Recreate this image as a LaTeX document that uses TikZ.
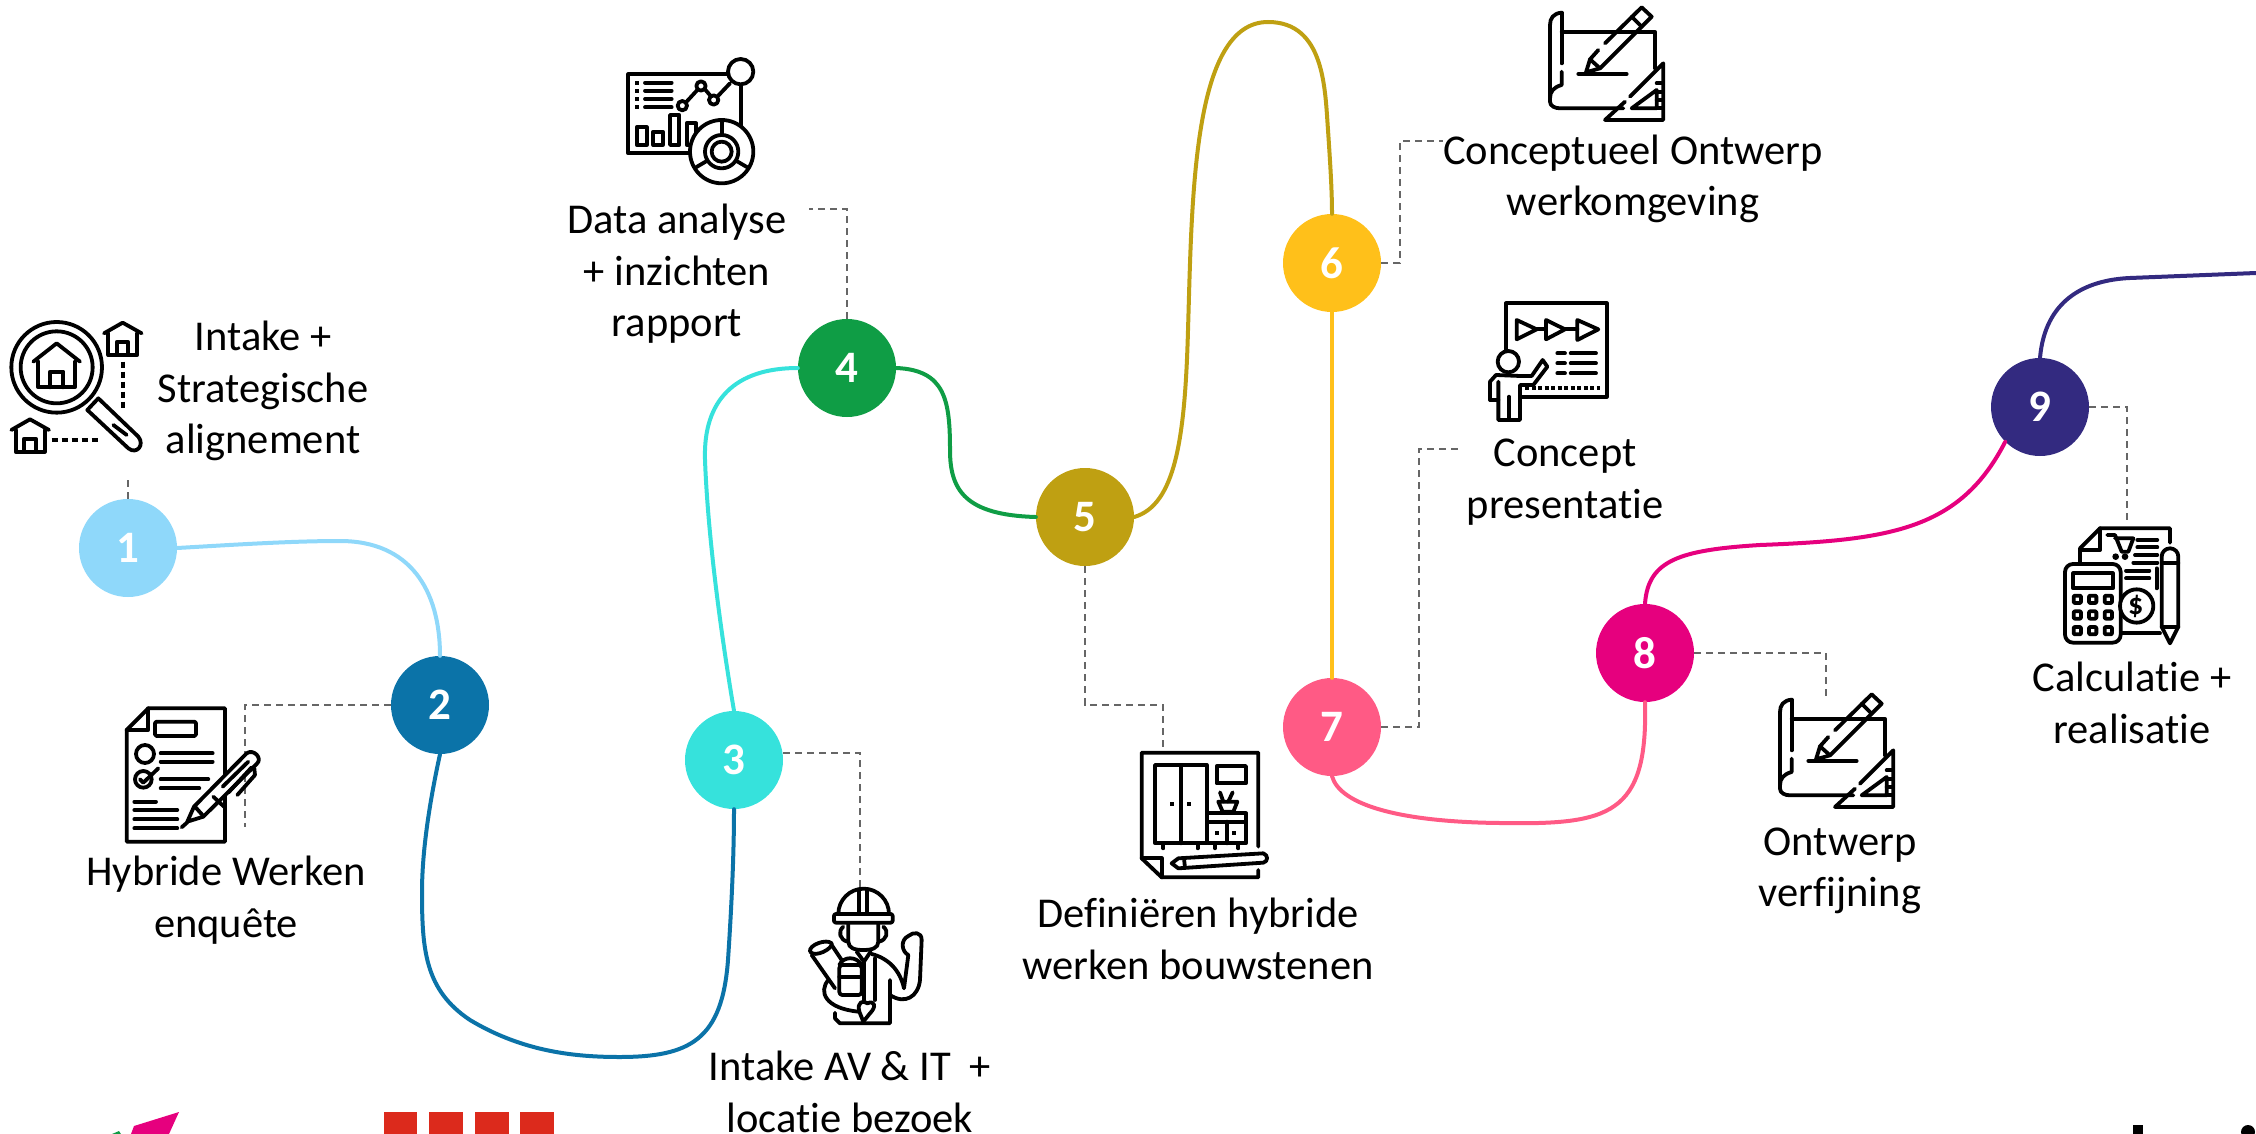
\documentclass[tikz,border=0pt]{standalone}
\usepackage{fontspec}
\setmainfont[Ligatures=NoCommon]{Carlito}
\tikzset{
  stepnode/.style={circle,minimum size=98pt,inner sep=0pt,text=white,font=\fontsize{45}{48}\selectfont\bfseries},
  lbl/.style={align=center,inner sep=0pt,text=black,font=\fontsize{42.5}{51.5}\selectfont},
  track/.style={line width=4pt,line cap=round},
  lead/.style={draw=black!60,line width=2.4pt,dash pattern=on 7pt off 5pt},
  ico/.style={draw=black,line width=3.8pt,line join=round,line cap=round},
  zoomed/.style={x=0.3333pt,y=-0.3333pt}
}
\definecolor{c1}{HTML}{8FD8FA}\definecolor{c2}{HTML}{0B73A8}\definecolor{c3}{HTML}{36E2DC}
\definecolor{c4}{HTML}{0F9D45}\definecolor{c5}{HTML}{BFA012}\definecolor{c6}{HTML}{FFC01A}
\definecolor{c7}{HTML}{FF5A85}\definecolor{c8}{HTML}{E6007E}\definecolor{c9}{HTML}{332A80}
\definecolor{logored}{HTML}{DC2A1C}
\newcommand{\hut}[2]{\begin{scope}[shift={(#1,#2)}]
 \draw[ico] (-56,32)--(0,0)--(57,32);
 \draw[ico] (-43,32)--(-43,97)--(44,97)--(44,32);
 \draw[ico] (-18,97)--(-18,58)--(17,58)--(17,97);
\end{scope}}
\newcommand{\planicon}[2]{\begin{scope}[shift={(#1,#2)},zoomed]
 \draw[ico] (185,38) .. controls (160,40) and (150,55) .. (150,75) -- (150,305) .. controls (150,318) and (165,325) .. (180,325) -- (370,325);
 \draw[ico] (185,38)--(185,190);
 \draw[ico] (185,215)--(185,255) .. controls (160,262) and (150,275) .. (150,295);
 \draw[ico] (185,95)--(465,95)--(465,205);
 \draw[ico] (390,290)--(490,190)--(490,360)--(315,360)--(375,305);
 \draw[ico] (470,270)--(470,325)--(395,325)--cycle;
 \foreach \yy in {250,275,300,325}{\draw[ico] (470,\yy)--(488,\yy);}
 \draw[ico] (315,130)--(425,22)--(455,50)--(300,205)--(258,217)--(270,178)--(295,150);
 \draw[ico] (395,50)--(425,80);
 \draw[ico] (270,178)--(300,205);
 \draw[ico] (235,222)--(380,222);
\end{scope}}
\begin{document}
\begin{tikzpicture}[x=1pt,y=-1pt]
\useasboundingbox (0,0) rectangle (2256,1134);
% step nodes
\node[stepnode,fill=c1] (n1) at (128,548) {1};
\node[stepnode,fill=c2] (n2) at (440,705) {2};
\node[stepnode,fill=c3] (n3) at (734,760) {3};
\node[stepnode,fill=c4] (n4) at (847,368) {4};
\node[stepnode,fill=c5] (n5) at (1085,517) {5};
\node[stepnode,fill=c6] (n6) at (1332,263) {6};
\node[stepnode,fill=c7] (n7) at (1332,727) {7};
\node[stepnode,fill=c8] (n8) at (1645,653) {8};
\node[stepnode,fill=c9] (n9) at (2040,407) {9};
% tracks
\draw[track,c1] (n1.east) .. controls (230,545) and (290,541) .. (340,541) .. controls (410,541) and (440,590) .. (n2.north);
\draw[track,c2] (n2.south) .. controls (430,800) and (422,850) .. (422,892) .. controls (422,950) and (425,990) .. (470,1020) .. controls (520,1050) and (570,1057) .. (619,1057) .. controls (690,1057) and (722,1040) .. (728,960) .. controls (732,900) and (734,850) .. (n3.south);
\draw[track,c3] (n3.north) .. controls (722,640) and (708,540) .. (705,460) .. controls (703,400) and (735,368) .. (n4.west);
\draw[track,c4] (n4.east) .. controls (945,370) and (950,400) .. (950,450) .. controls (950,490) and (965,515) .. (n5.west);
\draw[track,c5] (n5.east) .. controls (1175,505) and (1185,440) .. (1188,330) .. controls (1192,200) and (1192,22) .. (1268,22) .. controls (1325,22) and (1325,90) .. (1328,130) .. controls (1330,160) and (1332,190) .. (n6.north);
\draw[track,c6] (n6.south) -- (n7.north);
\draw[track,c7] (n7.south) .. controls (1340,805) and (1400,822) .. (1500,823) .. controls (1610,825) and (1648,815) .. (n8.south);
\draw[track,c8] (n8.north) .. controls (1648,560) and (1680,550) .. (1760,545) .. controls (1890,540) and (1960,530) .. (n9.south west);
\coordinate (e9) at (2256,273);
\draw[track,c9] (n9.north) .. controls (2045,300) and (2085,280) .. (2130,278) -- (e9);
% leads
\coordinate (f1) at (128,477);
\draw[lead] (n1.north) -- (f1);
\coordinate (f2) at (245,827);
\draw[lead] (n2.west) -| (f2);
\coordinate (f3) at (860,889);
\draw[lead] (n3.east) ++(0,-7) -| (f3);
\coordinate (f4) at (809,209);
\draw[lead] (n4.north) |- (f4);
\coordinate (f5a) at (1163,705);\coordinate (f5) at (1163,748);
\draw[lead] (n5.south) |- (f5a) -- (f5);
\coordinate (f6a) at (1400,141);\coordinate (f6) at (1443,141);
\draw[lead] (n6.east) -| (f6a) -- (f6);
\coordinate (f7a) at (1419,449);\coordinate (f7) at (1460,449);
\draw[lead] (n7.east) -| (f7a) -- (f7);
\coordinate (f8) at (1826,700);
\draw[lead] (n8.east) -| (f8);
\coordinate (f9) at (2127,525);
\draw[lead] (n9.east) -| (f9);
% labels
\node[lbl] (t1) at (263,391) {Intake +\\Strategische\\alignement};
\node[lbl] (t2) at (226,900) {Hybride Werken\\enquête};
\node[lbl] (t3) at (850,1092) {Intake AV \& IT\ \ +\\locatie bezoek};
\node[lbl] (t4) at (677,274) {Data analyse\\+ inzichten\\rapport};
\node[lbl] (t5) at (1198,939) {Definiëren hybride\\werken bouwstenen};
\node[lbl] (t6) at (1633,179) {Conceptueel Ontwerp\\werkomgeving};
\node[lbl] (t7) at (1565,482) {Concept\\presentatie};
\node[lbl] (t8) at (1840,871) {Ontwerp\\verfijning};
\node[lbl] (t9) at (2132,703) {Calculatie +\\realisatie};
% icon 1
\begin{scope}[shift={(0,280)},zoomed]
 \draw[ico] (170,262) circle[radius=136];
 \draw[ico] (170,262) circle[radius=108];
 \draw[ico] (100,245)--(170,190)--(240,245);
 \draw[ico] (115,245)--(115,322)--(225,322)--(225,245);
 \draw[ico] (150,322)--(150,275)--(190,275)--(190,322);
 \draw[ico] (262,390)--(295,355)--(415,470) .. controls (435,495) and (410,525) .. (385,505)--cycle;
 \draw[ico] (340,435)--(380,465);
 \draw[ico,line cap=butt,dash pattern=on 6pt off 4pt] (368,245)--(368,385);
 \draw[ico,line cap=butt,dash pattern=on 6pt off 4pt] (155,480)--(295,480);
 \hut{368}{128}
 \hut{90}{418}
\end{scope}
% icon 2
\begin{scope}[shift={(100,690)},zoomed]
 \draw[ico] (145,55)--(375,55)--(375,455)--(80,455)--(80,120)--cycle;
 \draw[ico] (145,55)--(145,120)--(80,120);
 \draw[ico,rounded corners=1.5pt] (165,95) rectangle (288,138);
 \draw[ico] (135,192) circle[radius=27];
 \draw[ico] (182,190)--(338,190);\draw[ico] (182,215)--(338,215);
 \draw[ico] (130,268) circle[radius=25];
 \draw[ico] (120,268)--(130,278)--(175,235);
 \draw[ico] (182,268)--(325,268);\draw[ico] (182,295)--(298,295);
 \draw[ico] (103,335)--(168,335);\draw[ico] (103,360)--(232,360);
 \draw[ico] (103,388)--(232,388);\draw[ico] (103,415)--(232,415);
 \draw[ico,fill=white] (262,395)--(282,350)--(440,190) .. controls (460,175) and (490,205) .. (470,222)--(310,380)--cycle;
 \draw[ico] (340,320)--(372,350);
 \draw[ico] (368,290)--(445,215);
 \draw[ico] (385,308)--(455,232);
 \draw[ico] (285,350)--(310,378);
 \draw[ico] (245,412)--(262,397);
 \draw[ico] (463,235)--(465,255)--(412,315);
\end{scope}
% icon 3
\begin{scope}[shift={(780,880)},zoomed]
 \draw[ico] (175,102) arc[start angle=180,end angle=360,radius=76];
 \draw[ico,rounded corners=2pt,fill=white] (162,102) rectangle (338,128);
 \draw[ico] (238,32)--(238,100);\draw[ico] (262,32)--(262,100);
 \draw[ico] (205,130)--(205,185) .. controls (205,205) and (225,210) .. (250,210) .. controls (275,210) and (295,205) .. (295,185)--(295,130);
 \draw[ico] (190,140) .. controls (172,155) and (180,180) .. (203,185);
 \draw[ico] (310,140) .. controls (328,155) and (320,180) .. (297,185);
 \draw[ico] (90,215) .. controls (85,195) and (140,175) .. (155,190) .. controls (160,205) and (105,235) .. (90,215);
 \draw[ico] (95,225)--(165,325);\draw[ico] (155,195)--(185,240);
 \draw[ico,rounded corners=3pt] (178,255) rectangle (245,345);
 \draw[ico] (178,255) .. controls (190,228) and (230,228) .. (245,255);
 \draw[ico] (178,290)--(245,290);
 \draw[ico] (230,215)--(252,245)--(272,215);
 \draw[ico] (252,245)--(252,360);\draw[ico] (285,235)--(285,360);
 \draw[ico] (275,222) .. controls (325,235) and (360,270) .. (372,325)--(385,225) .. controls (365,215) and (360,180) .. (385,168) .. controls (400,155) and (425,155) .. (425,180)--(420,300) .. controls (415,350) and (375,375) .. (330,345);
 \draw[ico] (330,300)--(330,430)--(180,430)--(165,415)--(165,398);
 \draw[ico] (145,300) .. controls (115,335) and (135,385) .. (235,395);
 \draw[ico,fill=white] (238,395) .. controls (230,365) and (250,360) .. (262,370) .. controls (285,360) and (290,380) .. (270,400)--(250,425)--cycle;
\end{scope}
% icon 4
\begin{scope}[shift={(590,40)},zoomed]
 \draw[ico] (452,135)--(452,260);
 \draw[ico] (412,103)--(115,103)--(115,340)--(300,340);
 \draw[ico] (452,95) circle[radius=38];
 \foreach \yy in {128,152,177,202}{
  \fill (136,\yy-6) rectangle (148,\yy+6);
  \draw[ico] (165,\yy)--(245,\yy);}
 \draw[ico] (288,187)--(322,150);\draw[ico] (345,148)--(362,168);\draw[ico] (382,170)--(420,130);
 \draw[ico] (277,197) circle[radius=14];\draw[ico] (333,138) circle[radius=14];\draw[ico] (371,180) circle[radius=14];
 \draw[ico] (140,262) rectangle (170,315);
 \draw[ico] (190,275) rectangle (218,315);
 \draw[ico] (240,225) rectangle (268,315);
 \draw[ico] (290,250) rectangle (318,315);
 \draw[ico,fill=white] (395,335) circle[radius=95];
 \draw[ico] (395,335) circle[radius=50];
 \draw[ico] (395,335) circle[radius=30];
 \draw[ico] (395,245)--(395,285);
 \draw[ico] (318,382)--(352,362);\draw[ico] (472,382)--(438,362);
\end{scope}
% icon 5
\begin{scope}[shift={(1110,740)},zoomed]
 \draw[ico] (445,320)--(445,38)--(95,38)--(95,355)--(155,412)--(445,412)--(445,390);
 \draw[ico] (95,355)--(155,355)--(155,412);
 \draw[ico] (135,75) rectangle (290,310);
 \draw[ico] (213,75)--(213,310);
 \fill (181,187) rectangle (193,199);\fill (231,187) rectangle (243,199);
 \foreach \xx in {160,263,315,385}{\draw[ico] (\xx,310)--(\xx,325);}
 \draw[ico] (320,78) rectangle (408,130);
 \draw[ico] (295,220)--(408,220)--(408,310)--(295,310);
 \draw[ico] (295,245)--(408,245);\draw[ico] (350,245)--(350,310);
 \fill (316,272) rectangle (328,284);\fill (366,272) rectangle (378,284);
 \draw[ico] (325,185)--(382,185)--(370,215)--(338,215)--cycle;
 \draw[ico] (330,157)--(340,185);\draw[ico] (368,157)--(355,185);
 \draw[ico] (185,370)--(205,355)--(460,340) .. controls (475,345) and (475,365) .. (460,368)--(205,385)--cycle;
 \draw[ico] (222,355)--(225,384);
\end{scope}
\planicon{1500}{0}
\planicon{1730}{687}
% icon 7
\begin{scope}[shift={(1470,290)},zoomed]
 \draw[ico] (108,185)--(108,40)--(410,40)--(410,320)--(150,320);
 \draw[ico] (140,90)--(200,118)--(140,148)--cycle;
 \draw[ico] (228,90)--(285,118)--(228,148)--cycle;
 \draw[ico] (322,90)--(385,118)--(322,150)--cycle;
 \draw[ico] (200,118)--(228,118);\draw[ico] (285,118)--(322,118);
 \foreach \yy in {190,220,250}{\draw[ico] (262,\yy)--(285,\yy);\draw[ico] (302,\yy)--(378,\yy);}
 \draw[ico,line cap=butt,dash pattern=on 4pt off 2.5pt] (165,293)--(390,293);
 \draw[ico,fill=white] (115,215) circle[radius=32];
 \draw[ico] (60,330)--(60,275)--(78,255)--(150,258)--(185,258)--(218,210)--(232,230)--(190,285)--(150,285)--(150,390)--(85,390)--(85,275);
 \draw[ico] (60,330)--(85,330);
 \draw[ico] (117,320)--(117,390);
\end{scope}
% icon 9
\begin{scope}[shift={(2020,520)},zoomed]
 \draw[ico] (180,125)--(180,85)--(240,25)--(450,25)--(450,68);
 \draw[ico] (240,25)--(240,90)--(180,90);
 \draw[ico] (262,45)--(285,45)--(305,95)--(325,95)--(340,55)--(285,55);
 \fill (287,110) circle[radius=10];\fill (315,110) circle[radius=10];
 \draw[ico] (352,60)--(412,60);\draw[ico] (352,82)--(412,82);\draw[ico] (345,105)--(412,105);
 \draw[ico] (340,128)--(412,128);\draw[ico] (318,152)--(388,152);\draw[ico] (318,175)--(388,175);
 \draw[ico] (410,145)--(410,205);
 \draw[ico] (305,340)--(420,340);
 \draw[ico,rounded corners=8pt,fill=white] (135,132) rectangle (302,368);
 \draw[ico] (160,160) rectangle (278,205);
 \foreach \xx in {172,218,265}{\foreach \yy in {238,285,332}{\draw[ico,rounded corners=1pt] (\xx-11,\yy-11) rectangle (\xx+11,\yy+11);}}
 \draw[ico,fill=white] (350,258) circle[radius=50];
 \node[inner sep=0pt,font=\fontsize{30}{32}\selectfont\bfseries] (dollar) at (347,258) {\$};
 \draw[ico] (425,320)--(425,110) arc[start angle=180,end angle=360,radius=25]--(475,320)--(450,370)--cycle;
 \draw[ico] (425,130)--(475,130);\draw[ico] (425,320)--(475,320);
\end{scope}
% logos cut off at the lower edge
\fill[c8] (179,1112)--(134,1126)--(131,1134)--(169,1134)--cycle;
\fill[c4] (112,1134)--(119,1131)--(121,1134)--cycle;
\fill[logored] (384,1112) rectangle (417,1134);
\fill[logored] (429,1112) rectangle (463,1134);
\fill[logored] (475,1112) rectangle (509,1134);
\fill[logored] (520,1112) rectangle (554,1134);
\fill[black] (2133,1125) rectangle (2143,1134);
\fill[black] (2248,1132) circle[radius=7];
\end{tikzpicture}
\end{document}
